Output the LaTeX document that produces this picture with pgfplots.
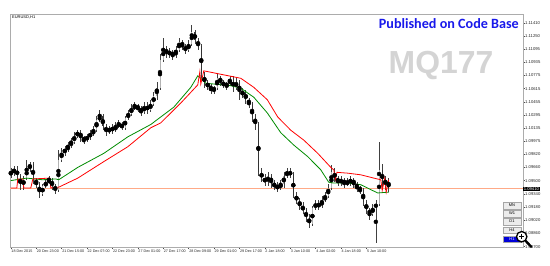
\documentclass[border=0pt]{standalone}
\usepackage{fontspec}
\setmainfont{Liberation Sans}
\newfontfamily\pubfont{Carlito}
\usepackage{pgfplots}
\usepackage{pgfplotstable}
\pgfplotsset{compat=1.18}

\definecolor{mtred}{RGB}{255,0,0}
\definecolor{mtgreen}{RGB}{0,140,0}
\definecolor{orangeline}{RGB}{255,170,135}
\definecolor{pubblue}{RGB}{25,25,235}
\definecolor{wm}{RGB}{212,212,212}

\pgfplotstableread{
x o h l c
0 1.0958 1.0965 1.0953 1.0960
2 1.0960 1.0968 1.0956 1.0963
4 1.0963 1.0968 1.0951 1.0956
6 1.0956 1.0958 1.0939 1.0943
8 1.0943 1.0956 1.0939 1.0953
10 1.0953 1.0975 1.0951 1.0965
12 1.0965 1.0973 1.0960 1.0970
14 1.0970 1.0973 1.0946 1.0951
16 1.0951 1.0953 1.0941 1.0946
18 1.0946 1.0948 1.0929 1.0934
20 1.0934 1.0946 1.0931 1.0943
22 1.0943 1.0951 1.0941 1.0948
24 1.0948 1.0956 1.0946 1.0951
26 1.0951 1.0953 1.0939 1.0943
28 1.0943 1.0946 1.0934 1.0939
30 1.0939 1.0987 1.0936 1.0975
32 1.0975 1.0990 1.0973 1.0985
34 1.0985 1.0992 1.0980 1.0987
36 1.0987 1.0997 1.0985 1.0992
38 1.0992 1.1002 1.0990 1.0997
40 1.0997 1.1009 1.0994 1.1004
42 1.1004 1.1011 1.1002 1.1009
44 1.1009 1.1011 1.0997 1.1002
46 1.1002 1.1004 1.0994 1.0999
48 1.0999 1.1006 1.0997 1.1004
50 1.1004 1.1011 1.0999 1.1006
52 1.1006 1.1016 1.1004 1.1011
54 1.1011 1.1028 1.1009 1.1023
56 1.1023 1.1036 1.1021 1.1028
58 1.1028 1.1031 1.1011 1.1016
60 1.1016 1.1019 1.1004 1.1009
62 1.1009 1.1016 1.1006 1.1014
64 1.1014 1.1019 1.1006 1.1011
66 1.1011 1.1021 1.1009 1.1016
68 1.1016 1.1023 1.1014 1.1019
70 1.1019 1.1021 1.1011 1.1014
72 1.1014 1.1028 1.1011 1.1026
74 1.1026 1.1036 1.1023 1.1031
76 1.1031 1.1043 1.1028 1.1038
78 1.1038 1.1045 1.1036 1.1040
80 1.1040 1.1043 1.1033 1.1038
82 1.1038 1.1040 1.1028 1.1033
84 1.1033 1.1045 1.1031 1.1040
86 1.1040 1.1045 1.1031 1.1036
88 1.1036 1.1048 1.1033 1.1043
90 1.1043 1.1057 1.1040 1.1053
92 1.1053 1.1070 1.1048 1.1062
94 1.1062 1.1103 1.1060 1.1096
96 1.1096 1.1123 1.1094 1.1111
98 1.1111 1.1113 1.1099 1.1103
100 1.1103 1.1111 1.1099 1.1106
102 1.1106 1.1108 1.1096 1.1101
104 1.1101 1.1113 1.1099 1.1108
106 1.1108 1.1123 1.1106 1.1118
108 1.1118 1.1120 1.1108 1.1113
110 1.1113 1.1116 1.1103 1.1108
112 1.1108 1.1120 1.1106 1.1116
114 1.1116 1.1139 1.1113 1.1130
116 1.1130 1.1133 1.1116 1.1120
118 1.1120 1.1123 1.1108 1.1113
120 1.1113 1.1116 1.1074 1.1079
122 1.1079 1.1082 1.1062 1.1067
124 1.1067 1.1072 1.1060 1.1065
126 1.1065 1.1067 1.1055 1.1060
128 1.1060 1.1065 1.1055 1.1062
130 1.1062 1.1079 1.1060 1.1074
132 1.1074 1.1077 1.1065 1.1070
134 1.1070 1.1072 1.1062 1.1065
136 1.1065 1.1070 1.1060 1.1067
138 1.1067 1.1077 1.1065 1.1072
140 1.1072 1.1077 1.1057 1.1062
142 1.1062 1.1074 1.1060 1.1070
144 1.1070 1.1072 1.1048 1.1055
146 1.1055 1.1062 1.1050 1.1057
148 1.1057 1.1060 1.1043 1.1048
150 1.1048 1.1050 1.1038 1.1043
152 1.1043 1.1045 1.1021 1.1026
154 1.1026 1.1031 1.1011 1.1019
156 1.1019 1.1021 1.0956 1.0960
158 1.0960 1.0965 1.0948 1.0953
160 1.0953 1.0958 1.0943 1.0948
162 1.0948 1.0960 1.0943 1.0956
164 1.0956 1.0958 1.0941 1.0946
166 1.0946 1.0951 1.0939 1.0943
168 1.0943 1.0948 1.0936 1.0941
170 1.0941 1.0951 1.0939 1.0946
172 1.0946 1.0960 1.0941 1.0956
174 1.0956 1.0965 1.0953 1.0960
176 1.0960 1.0965 1.0953 1.0958
178 1.0958 1.0960 1.0929 1.0931
180 1.0931 1.0936 1.0922 1.0926
182 1.0926 1.0929 1.0914 1.0919
184 1.0919 1.0924 1.0910 1.0914
186 1.0914 1.0917 1.0900 1.0905
188 1.0905 1.0910 1.0893 1.0897
190 1.0897 1.0919 1.0895 1.0917
192 1.0917 1.0926 1.0914 1.0922
194 1.0922 1.0926 1.0914 1.0919
196 1.0919 1.0931 1.0917 1.0926
198 1.0926 1.0936 1.0924 1.0931
200 1.0931 1.0946 1.0929 1.0941
202 1.0941 1.0969 1.0939 1.0960
204 1.0960 1.0965 1.0948 1.0953
206 1.0953 1.0956 1.0943 1.0948
208 1.0948 1.0956 1.0943 1.0951
210 1.0951 1.0953 1.0941 1.0946
212 1.0946 1.0953 1.0943 1.0948
214 1.0948 1.0956 1.0943 1.0951
216 1.0951 1.0953 1.0941 1.0946
218 1.0946 1.0948 1.0936 1.0941
220 1.0941 1.0943 1.0934 1.0939
222 1.0939 1.0941 1.0919 1.0924
224 1.0924 1.0926 1.0910 1.0914
226 1.0914 1.0917 1.0902 1.0910
228 1.0910 1.0922 1.0907 1.0917
230 1.0917 1.0926 1.0874 1.0922
232 1.0922 1.0997 1.0919 1.0963
234 1.0963 1.0970 1.0941 1.0946
236 1.0946 1.0956 1.0939 1.0951
238 1.0951 1.0953 1.0936 1.0941
}\candles

\pgfplotstableread{
x y
0 1.0950
10 1.0953
20 1.0951
28.3 1.0952
30.2 1.0951
42.2 1.0966
58.6 1.0983
73.7 1.1003
88.2 1.1018
102.7 1.1039
113.4 1.1063
117.8 1.1077
119.7 1.1074
122.8 1.1068
138.6 1.1065
144.9 1.1062
153.1 1.1051
161.6 1.1032
170.1 1.1008
178.3 1.0993
187.1 1.0979
195.3 1.0963
200.3 1.0948
203.5 1.0947
212.3 1.0947
220.5 1.0945
226.8 1.0939
231.2 1.0935
238.1 1.0936
}\greenma

\pgfplotstableread{
x y
0 1.0941
3.8 1.0941
4.4 1.0952
7.6 1.0952
8.2 1.0941
12.6 1.0941
13.9 1.0952
24.6 1.0953
25.2 1.0941
28.3 1.0942
30.2 1.0942
42.2 1.0953
58.6 1.0973
73.7 1.0991
88.2 1.1014
94.5 1.1020
107.1 1.1044
117.8 1.1066
119.1 1.1082
119.7 1.1067
121.6 1.1083
144.9 1.1074
153.1 1.1063
161.6 1.1048
168.2 1.1027
176.4 1.1011
184.6 1.0999
193.4 1.0983
201.6 1.0966
203.5 1.0963
204.5 1.0951
205.5 1.0960
212.3 1.0959
220.5 1.0957
228.7 1.0953
233.1 1.0951
234.0 1.0938
235.6 1.0953
236.5 1.0936
238.1 1.0951
}\redma

\begin{document}
\begin{tikzpicture}[x=1bp,y=1bp]
\useasboundingbox (0,0) rectangle (550,265);
\fill[white] (0,0) rectangle (550,265);
\begin{axis}[
  at={(10bp,18bp)}, anchor=south west, scale only axis,
  width=513bp, height=233bp,
  xmin=-0.5, xmax=322.7, ymin=1.08695, ymax=1.11519,
  axis line style={gray!65, line width=0.5bp},
  xtick={0,16,32,48,64,80,96,112,128,144,160,176,192,208,224},
  xticklabels={18 Dec 2015,20 Dec 23:00,21 Dec 15:00,22 Dec 07:00,22 Dec 23:00,27 Dec 01:00,27 Dec 17:00,28 Dec 09:00,29 Dec 01:00,29 Dec 17:00,2 Jan 18:00,3 Jan 10:00,4 Jan 02:00,4 Jan 18:00,5 Jan 10:00},
  xtick pos=bottom,
  ytick={1.0870,1.0886,1.0902,1.0918,1.0934,1.0950,1.0966,1.0982,1.09975,1.10135,1.10295,1.10455,1.10615,1.10775,1.10935,1.11095,1.1125,1.1141},
  yticklabels={1.08700,1.08860,1.09020,1.09180,1.09340,1.09500,1.09660,1.09820,1.09975,1.10135,1.10295,1.10455,1.10615,1.10775,1.10935,1.11095,1.11250,1.11410},
  ytick pos=right,
  tick align=outside, major tick length=2bp,
  tick style={black!70, line width=0.4bp},
  xticklabel style={font=\fontsize{3.7}{4.5}\selectfont, anchor=north west, xshift=-0.5bp, yshift=0.5bp, text=black!85, inner sep=1bp},
  yticklabel style={font=\fontsize{4.2}{5}\selectfont, anchor=west, xshift=-1bp, text=black!85, inner sep=1bp},
]
\addplot[orangeline, line width=0.9bp, forget plot] coordinates {(-0.5,1.0941) (322.7,1.0941)};
% wicks
\addplot[only marks, mark=none, forget plot,
  error bars/.cd, y dir=both, y explicit, error mark=none,
  error bar style={draw=black!75, line width=0.5bp}]
  table[x=x, y expr={(\thisrow{h}+\thisrow{l})/2}, y error expr={(\thisrow{h}-\thisrow{l})/2}] {\candles};
% bull bodies
\addplot[only marks, mark=none, forget plot, unbounded coords=discard,
  error bars/.cd, y dir=both, y explicit, error mark=none,
  error bar style={draw=gray!60, line width=0.9bp}]
  table[x=x, y expr={\thisrow{c}>=\thisrow{o} ? (\thisrow{o}+\thisrow{c})/2 : nan}, y error expr={(\thisrow{c}-\thisrow{o})/2}] {\candles};
% bear bodies
\addplot[only marks, mark=none, forget plot, unbounded coords=discard,
  error bars/.cd, y dir=both, y explicit, error mark=none,
  error bar style={draw=black!80, line width=0.9bp}]
  table[x=x, y expr={\thisrow{c}<\thisrow{o} ? (\thisrow{o}+\thisrow{c})/2 : nan}, y error expr={(\thisrow{o}-\thisrow{c})/2}] {\candles};
\addplot[mtgreen, line width=0.8bp, no marks] table[x=x,y=y] {\greenma};
\addplot[mtred, line width=0.8bp, no marks] table[x=x,y=y] {\redma};
\end{axis}
% title
\node[anchor=west, inner sep=0, font=\fontsize{4}{4}\selectfont] at (12,248) {EURUSD,H1};
% watermark texts
\node[anchor=base, inner sep=0, text=wm, font=\fontsize{32}{32}\selectfont\bfseries] at (441,192) {MQ177};
\node[anchor=base east, inner sep=0, text=pubblue, font=\pubfont\bfseries\fontsize{14.2}{15}\selectfont] at (519,236.7) {Published on Code Base};
% current price box
\node[anchor=west, fill=black, text=white, inner sep=0.6bp, font=\fontsize{4.2}{4.5}\selectfont] at (523,76) {1.09410};
% timeframe buttons
\foreach \lab/\yy in {MN/59.5, W1/51.5, D1/43.5, H4/35}{
  \node[draw=gray!70, fill=gray!15, minimum width=18bp, minimum height=6.5bp, inner sep=0, line width=0.4bp, font=\fontsize{4}{4}\selectfont] at (512,\yy) {\lab};
}
\node[draw=gray!70, fill=blue!85!black, text=white, minimum width=18bp, minimum height=6.5bp, inner sep=0, line width=0.4bp, font=\fontsize{4}{4}\selectfont] at (512,26) {H1};
% magnifier overlay
\draw[black, line width=2.4bp, line cap=round] (525.5,24.3) -- (531.2,18.2);
\draw[black, fill=white, line width=1.3bp] (521.7,28.3) circle (5.2);
\draw[black, line width=1bp] (519.2,28.3) -- (524.2,28.3) (521.7,25.8) -- (521.7,30.8);
\end{tikzpicture}
\end{document}
